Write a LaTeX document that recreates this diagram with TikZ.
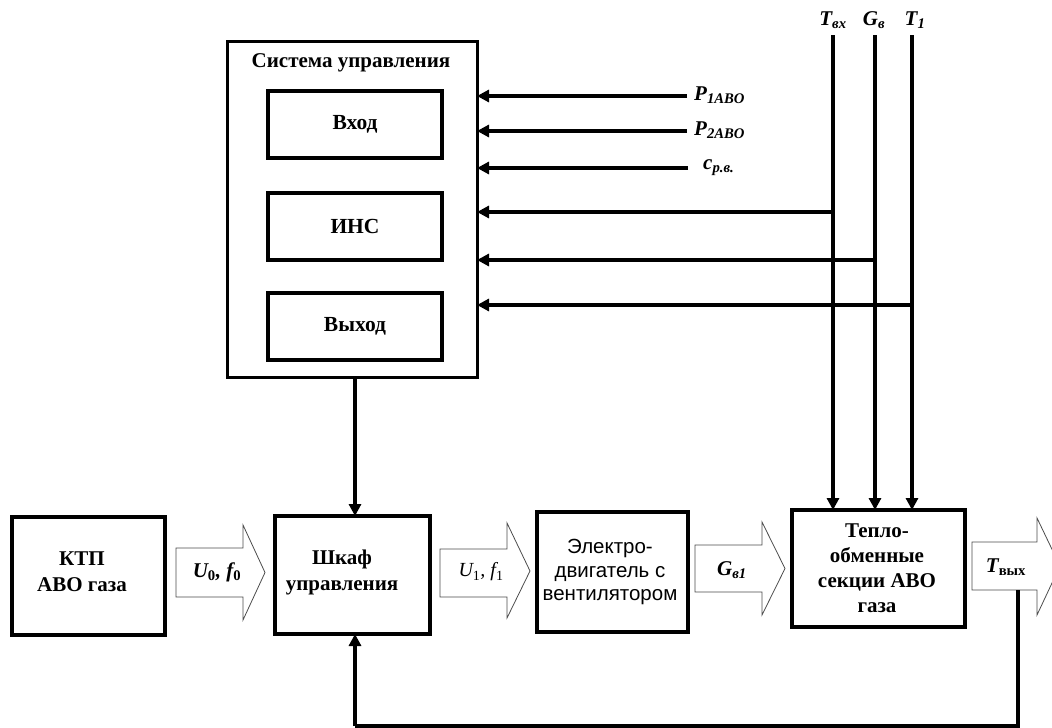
\documentclass[tikz,border=0pt]{standalone}
\usepackage{fontspec}
\setmainfont{Liberation Serif}
\newfontfamily\arialf{Liberation Sans}
\usetikzlibrary{arrows.meta}
\begin{document}
\begin{tikzpicture}[x=1pt,y=-1pt,
  box/.style={draw,line width=4pt,inner sep=0pt,outer sep=0pt,align=center,font=\fontsize{21.5}{26}\selectfont\bfseries},
  outerbox/.style={draw,line width=3pt,inner sep=0pt,outer sep=0pt},
  conn/.style={line width=3.5pt,-{Triangle[length=12pt,width=12pt]}},
  line/.style={line width=3.5pt},
  blk/.style={draw=black!70,line width=0.8pt,fill=white},
  lbl/.style={font=\fontsize{21}{22}\selectfont\bfseries\itshape,inner sep=0pt},
  txt/.style={font=\fontsize{21}{26}\selectfont\bfseries,inner sep=0pt,align=center}]
\useasboundingbox (0,0) rectangle (1052,728);
% control system
\node[outerbox,minimum width=250pt,minimum height=336pt] (sys) at (352,209) {};
\node[txt] (systitle) at (351,63) {Система управления};
\node[box,minimum width=174pt,minimum height=67pt] (vhod) at (355,124.5) {Вход};
\node[box,minimum width=174pt,minimum height=67pt] (ins) at (355,226.5) {ИНС};
\node[box,minimum width=174pt,minimum height=67pt] (vyh) at (355,326.5) {Выход};
% bottom row
\node[box,minimum width=153pt,minimum height=118pt] (ktp) at (88.5,576) {};
\node[txt] (ktpt) at (82,572) {КТП\\АВО газа};
\node[box,minimum width=155pt,minimum height=118pt] (shkaf) at (352.5,575) {};
\node[txt] (shkaft) at (342,572) {Шкаф\\управления};
\node[box,minimum width=151pt,minimum height=120pt] (motor) at (612.5,572) {};
\node[font=\arialf\fontsize{20.5}{23.5}\selectfont,align=center,inner sep=0pt] (motort) at (610,572) {Электро-\\двигатель с\\вентилятором};
\node[box,minimum width=173pt,minimum height=117pt] (teplo) at (878.5,568.5) {};
\node[txt,font=\fontsize{21}{25}\selectfont\bfseries] (teplot) at (877,568) {Тепло-\\обменные\\секции АВО\\газа};
% block arrows
\draw[blk] (176,548) -- (243,548) -- (243,525) -- (265,572.5) -- (243,620) -- (243,597) -- (176,597) -- cycle;
\node[lbl] (u0) at (217,572) {U\textsubscript{\upshape 0}, f\textsubscript{\upshape 0}};
\draw[blk] (440,549) -- (507,549) -- (507,523) -- (530,571) -- (507,618) -- (507,597) -- (440,597) -- cycle;
\node[lbl,font=\fontsize{20}{22}\selectfont\itshape] (u1) at (481,572) {U\textsubscript{\upshape 1}, f\textsubscript{\upshape 1}};
\draw[blk] (695,545) -- (762,545) -- (762,522) -- (785,568.5) -- (762,615) -- (762,592) -- (695,592) -- cycle;
\node[lbl] (gv1) at (732,570) {G\textsubscript{в1}};
\draw[blk] (972,542) -- (1037,542) -- (1037,518) -- (1060,566) -- (1037,615) -- (1037,590) -- (972,590) -- cycle;
\node[lbl] (tvyh) at (1006,567) {T\textsubscript{\upshape вых}};
% inputs to control system
\coordinate (p1s) at (687,96);
\coordinate (p2s) at (687,131);
\coordinate (crs) at (688,168);
\draw[conn] (p1s) -- (p1s -| sys.east);
\draw[conn] (p2s) -- (p2s -| sys.east);
\draw[conn] (crs) -- (crs -| sys.east);
\node[lbl,anchor=west] (p1) at (694,95) {P\textsubscript{1ABO}};
\node[lbl,anchor=west] (p2) at (694,130) {P\textsubscript{2ABO}};
\node[lbl,anchor=west] (cr) at (703,168) {c\textsubscript{р.в.}};
% top measured variables
\coordinate (tvx) at (833,35);
\coordinate (gv) at (875,35);
\coordinate (t1) at (912,35);
\node[lbl] (tvxl) at (833,20) {T\textsubscript{вх}};
\node[lbl] (gvl) at (874,20) {G\textsubscript{в}};
\node[lbl] (t1l) at (915,20) {T\textsubscript{1}};
\draw[conn] (tvx) -- (tvx |- teplo.north);
\draw[conn] (gv) -- (gv |- teplo.north);
\draw[conn] (t1) -- (t1 |- teplo.north);
\coordinate (tvxb) at (833,212);
\coordinate (gvb) at (875,260);
\coordinate (t1b) at (912,305);
\draw[conn] (tvxb) -- (tvxb -| sys.east);
\draw[conn] (gvb) -- (gvb -| sys.east);
\draw[conn] (t1b) -- (t1b -| sys.east);
% control system to cabinet
\coordinate (sysout) at (355,377);
\draw[conn] (sysout) -- (sysout |- shkaf.north);
% feedback
\coordinate (fbs) at (1018,590);
\coordinate (fbc) at (1018,726);
\coordinate (fbl) at (355,726);
\draw[line] (fbs) -- (fbc) -- (fbl);
\draw[conn] (fbl) -- (fbl |- shkaf.south);
\end{tikzpicture}
\end{document}
